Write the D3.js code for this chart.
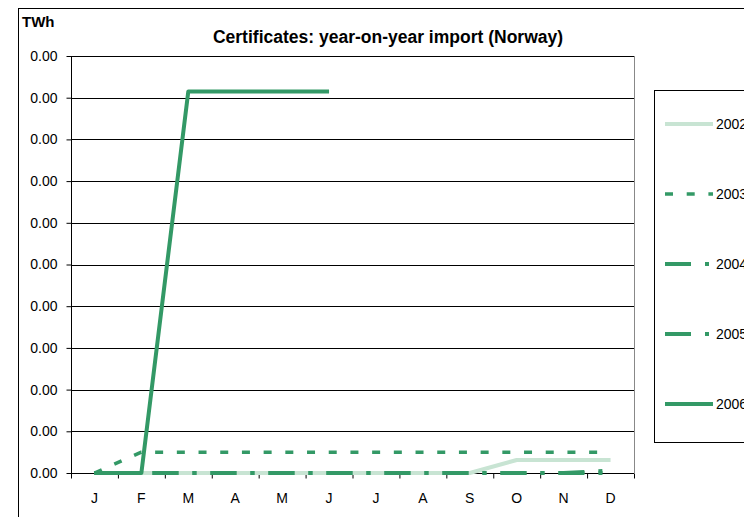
<!DOCTYPE html>
<html><head><meta charset="utf-8">
<script src="https://cdn.jsdelivr.net/npm/d3@7"></script>
<style>body{margin:0;background:#fff}svg{display:block}text{font-family:"Liberation Sans",Arial,sans-serif}</style>
</head><body><svg id="c" width="744" height="517"></svg>
<script>
const months = ["J","F","M","A","M","J","J","A","S","O","N","D"];
const years = ["2002","2003","2004","2005","2006"];
const v2002 = [0,0,0,0,0,0,0,0,0,0.000125,0.000125,0.000125];
const v2003 = [0,0.0002,0.0002,0.0002,0.0002,0.0002,0.0002,0.0002,0.0002,0.0002,0.0002,0.0002];
const v2004 = [0,0,0,0,0,0,0,0,0,0,0,0];
const v2005 = [0,0,0,0,0,0,0,0,0,0,0,0.000024];
const v2006 = [0,0,0.00366,0.00366,0.00366,0.00366,null,null,null,null,null,null];
const yTicks = d3.range(0, 0.00401, 0.0004);
const title = "Certificates: year-on-year import (Norway)";
const unit = "TWh";

const styles = [
  {color:"#c8e4d3", width:4, dash:null},
  {color:"#339966", width:3.5, dash:"8,13.7"},
  {color:"#339966", width:4, dash:"26,14,4,14"},
  {color:"#339966", width:4, dash:"26,14,4,14"},
  {color:"#339966", width:4, dash:null}
];
const seriesValues = [v2002, v2003, v2004, v2005, v2006];
const series = years.map((name,i)=>Object.assign({name, values:seriesValues[i]}, styles[i]));

const svg = d3.select("#c");
const L = 71, R = 634, T = 56, B = 473;
const x = d3.scaleLinear().domain([0, months.length]).range([L, R]);
const y = d3.scaleLinear().domain([0, 0.004]).range([B, T]);

// outer frame
svg.append("rect").attr("x",18.5).attr("y",8.5).attr("width",900).attr("height",700)
  .attr("fill","none").attr("stroke","#000");

// title & unit
svg.append("text").attr("x",388).attr("y",43).attr("text-anchor","middle")
  .attr("font-weight","bold").attr("font-size",17.5).text(title);
svg.append("text").attr("x",22).attr("y",27).attr("font-weight","bold").attr("font-size",15).text(unit);

// plot right border
svg.append("line").attr("x1",R+0.5).attr("x2",R+0.5).attr("y1",T).attr("y2",B).attr("stroke","#888");

// gridlines
svg.append("g").selectAll("line").data(yTicks).join("line")
  .attr("x1",L).attr("x2",R).attr("y1",d=>Math.round(y(d))+0.5).attr("y2",d=>Math.round(y(d))+0.5)
  .attr("stroke","#000");

// y axis
const ya = svg.append("g").attr("transform",`translate(${L+0.5},0)`)
  .call(d3.axisLeft(y).tickValues(yTicks).tickFormat(d3.format(".2f")).tickSize(5).tickPadding(9));
ya.select(".domain").attr("stroke","#000").attr("d",`M0,${T}V${B}`);
ya.selectAll(".tick line").attr("stroke","#000");
ya.selectAll(".tick text").attr("font-size",14).attr("fill","#000").attr("font-family","Liberation Sans, Arial, sans-serif");

// x axis (boundary ticks)
const xa = svg.append("g").attr("transform",`translate(0,${B+0.5})`)
  .call(d3.axisBottom(x).tickValues(d3.range(months.length+1)).tickFormat("").tickSize(5));
xa.select(".domain").attr("stroke","#000").attr("d",`M${L},0H${R}`);
xa.selectAll(".tick line").attr("stroke","#000");
svg.append("g").selectAll("text").data(months).join("text")
  .attr("x",(d,i)=>x(i+0.5)).attr("y",503).attr("text-anchor","middle")
  .attr("font-size",14).text(d=>d);

// lines
const line = d3.line().defined(d=>d!=null).x((d,i)=>x(i+0.5)).y(d=>y(d));
svg.append("g").selectAll("path").data(series).join("path")
  .attr("d",s=>line(s.values)).attr("fill","none")
  .attr("stroke",s=>s.color).attr("stroke-width",s=>s.width)
  .attr("stroke-dasharray",s=>s.dash).attr("stroke-linejoin","round");

// legend
svg.append("rect").attr("x",654.5).attr("y",90.5).attr("width",200).attr("height",352)
  .attr("fill","#fff").attr("stroke","#000");
const lg = svg.append("g").selectAll("g").data(series).join("g")
  .attr("transform",(d,i)=>`translate(0,${124+i*70})`);
lg.append("line").attr("x1",665).attr("x2",713).attr("y1",0).attr("y2",0)
  .attr("stroke",s=>s.color).attr("stroke-width",s=>s.width).attr("stroke-dasharray",s=>s.dash);
lg.append("text").attr("x",716).attr("y",5).attr("font-size",14).text(s=>s.name);
</script></body></html>
